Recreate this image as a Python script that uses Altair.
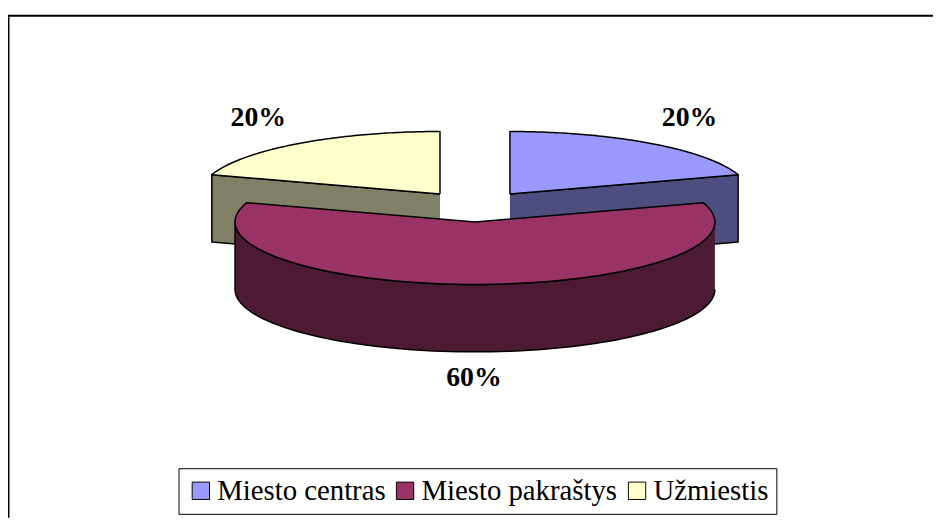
import altair as alt
import pandas as pd

# ---- data ----
categories = ["Miesto centras", "Miesto pakraštys", "Užmiestis"]
shares = [20, 60, 20]

# ---- styles ----
top_colors = ["#9999FF", "#993366", "#FFFFCC"]
side_colors = ["#4D4D80", "#4D1A33", "#808066"]
SERIF = "'Liberation Serif', 'Times New Roman', 'DejaVu Serif', serif"

df = pd.DataFrame({"category": categories, "share": shares,
                   "idx": list(range(len(categories)))})

# ---- layout constants (page pixel space) ----
W, H = 933, 512
CX, CY = 479.0, 206.0          # pie centre
RX, RY = 242.0, 63.0           # ellipse radii of the top face
DEPTH = 68.0                   # thickness of the pie
EXPLODE = 60.0                 # explosion distance (in the pie plane)
K = RY / RX
N = 90                         # points per arc
LCX, LCY, LRX, LRY = 478.0, 234.0, 370.0, 145.0   # label ellipse

xs = alt.Scale(domain=[8, 8 + W], nice=False, zero=False)
ys = alt.Scale(domain=[8, 8 + H], nice=False, zero=False, reverse=True)
X = lambda f: alt.X(f, scale=xs, axis=None)
Y = lambda f: alt.Y(f, scale=ys, axis=None)


def base():
    return (
        alt.Chart(df)
        .transform_joinaggregate(total="sum(share)")
        .transform_window(cum="sum(share)", sort=[alt.SortField("idx", order="ascending")],
                          frame=[None, 0])
        .transform_calculate(a0="2*PI*(datum.cum - datum.share)/datum.total")
        .transform_calculate(a1="2*PI*datum.cum/datum.total")
        .transform_calculate(mid="(datum.a0 + datum.a1)/2")
        .transform_calculate(ox=f"{CX} + {EXPLODE}*sin(datum.mid)")
        .transform_calculate(oy=f"{CY} - {EXPLODE * K}*cos(datum.mid)")
    )


poly = dict(filled=True, stroke="black", strokeWidth=1.5, strokeJoin="round",
            interpolate="linear")

# radial cut faces (visible ones only)
radial = (
    base()
    .transform_calculate(edge="[0, 1]")
    .transform_flatten(["edge"])
    .transform_calculate(a="datum.edge == 0 ? datum.a0 : datum.a1")
    .transform_calculate(vis="datum.edge == 0 ? sin(datum.a0) < -1e-6 : sin(datum.a1) > 1e-6")
    .transform_filter("datum.vis")
    .transform_calculate(key="datum.category + '-' + datum.edge")
    .transform_calculate(pts="sequence(0, 4)")
    .transform_flatten(["pts"])
    .transform_calculate(out="datum.pts == 1 || datum.pts == 2")
    .transform_calculate(low="datum.pts >= 2")
    .transform_calculate(px=f"datum.out ? datum.ox + {RX}*sin(datum.a) : datum.ox")
    .transform_calculate(
        py=f"(datum.out ? datum.oy - {RY}*cos(datum.a) : datum.oy) + (datum.low ? {DEPTH} : 0)")
    .mark_line(**poly)
    .encode(x=X("px:Q"), y=Y("py:Q"), order="pts:Q", detail="key:N",
            fill=alt.Fill("category:N", scale=alt.Scale(domain=categories, range=side_colors),
                          legend=None))
)

# outer rim walls (front half only)
side = (
    base()
    .transform_calculate(b0="max(datum.a0, PI/2)")
    .transform_calculate(b1="min(datum.a1, 3*PI/2)")
    .transform_filter("datum.b1 > datum.b0 + 1e-6")
    .transform_calculate(pts=f"sequence(0, {2 * N + 2})")
    .transform_flatten(["pts"])
    .transform_calculate(lower=f"datum.pts > {N}")
    .transform_calculate(t=f"datum.lower ? ({2 * N + 1} - datum.pts)/{N} : datum.pts/{N}")
    .transform_calculate(ang="datum.b0 + (datum.b1 - datum.b0)*datum.t")
    .transform_calculate(px=f"datum.ox + {RX}*sin(datum.ang)")
    .transform_calculate(py=f"datum.oy - {RY}*cos(datum.ang) + (datum.lower ? {DEPTH} : 0)")
    .mark_line(**poly)
    .encode(x=X("px:Q"), y=Y("py:Q"), order="pts:Q", detail="category:N",
            fill=alt.Fill("category:N", scale=alt.Scale(domain=categories, range=side_colors),
                          legend=None))
)

# top faces
top = (
    base()
    .transform_calculate(pts=f"sequence(0, {N + 3})")
    .transform_flatten(["pts"])
    .transform_calculate(ang=f"datum.a0 + (datum.a1 - datum.a0)*clamp(datum.pts - 1, 0, {N})/{N}")
    .transform_calculate(rim=f"datum.pts >= 1 && datum.pts <= {N + 1}")
    .transform_calculate(px=f"datum.rim ? datum.ox + {RX}*sin(datum.ang) : datum.ox")
    .transform_calculate(py=f"datum.rim ? datum.oy - {RY}*cos(datum.ang) : datum.oy")
    .mark_line(**poly)
    .encode(
        x=X("px:Q"), y=Y("py:Q"), order="pts:Q", detail="category:N",
        fill=alt.Fill(
            "category:N",
            scale=alt.Scale(domain=categories, range=top_colors),
            legend=alt.Legend(
                title=None, orient="none", legendX=172, legendY=462,
                direction="horizontal", symbolType="square", symbolSize=306,
                symbolStrokeColor="black", symbolStrokeWidth=1, symbolOpacity=1,
                labelFont=SERIF, labelFontSize=29, labelColor="black",
                labelLimit=500, labelOffset=2, columnPadding=5, padding=8,
                strokeColor="black",
            ),
        ),
    )
)

labels = (
    base()
    .transform_calculate(lx=f"{LCX} + {LRX}*sin(datum.mid)")
    .transform_calculate(ly=f"{LCY} - {LRY}*cos(datum.mid)")
    .transform_calculate(txt="format(datum.share/datum.total, '.0%')")
    .mark_text(font=SERIF, fontSize=28, fontWeight="bold", color="black",
               align="center", baseline="middle")
    .encode(x=X("lx:Q"), y=Y("ly:Q"), text="txt:N")
)

one = alt.Data(values=[{"k": 0}])
frame_top = alt.Chart(one).mark_rule(color="black", strokeWidth=2).encode(
    x=alt.value(0), x2=alt.value(W), y=alt.value(5.5))
frame_left = alt.Chart(one).mark_rule(color="black", strokeWidth=2).encode(
    x=alt.value(0.5), y=alt.value(5), y2=alt.value(H))

chart = (
    alt.layer(radial, side, top, labels, frame_top, frame_left)
    .resolve_scale(fill="independent")
    .properties(width=W, height=H, padding=0, autosize="none", background="white")
    .configure_view(strokeWidth=0)
)

chart.save("out.html", embed_options={"renderer": "svg", "actions": False})
